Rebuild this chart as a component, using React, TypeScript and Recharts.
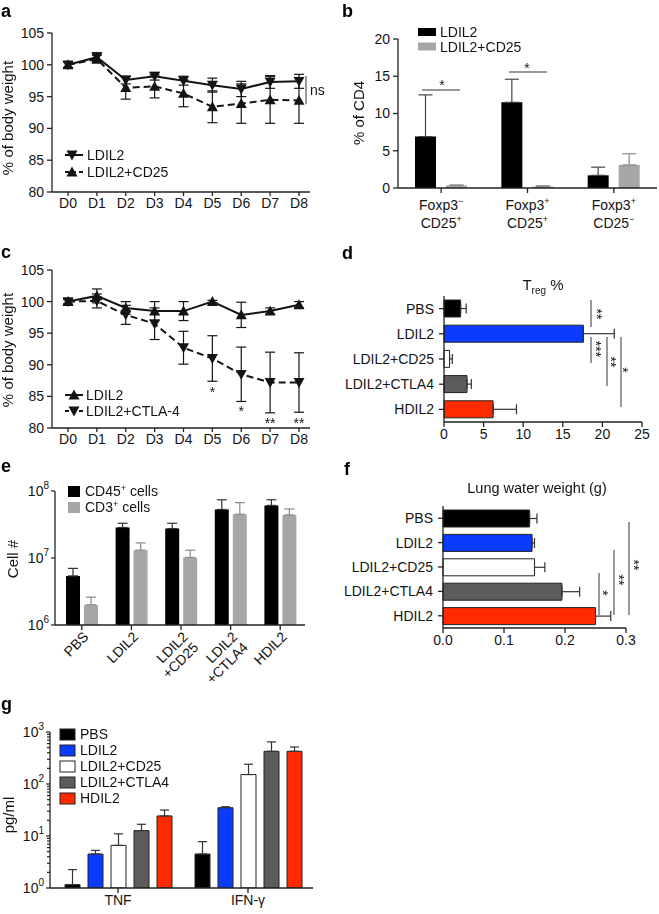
import React from "react";
import { LineChart, Line, BarChart, Bar, XAxis, YAxis, ErrorBar, Cell } from "recharts";

const FONT = "'Liberation Sans', Arial, Helvetica, sans-serif";
const INK = "#141414";
const AXIS = { stroke: "#222", strokeWidth: 1.3 };
const TICK = { fontSize: 14, fill: INK };

// a: body weight, LDIL2 vs LDIL2+CD25
const days = ["D0", "D1", "D2", "D3", "D4", "D5", "D6", "D7", "D8"];
const aLdil2 = [100, 101.2, 97.6, 98.2, 97.5, 96.8, 96.2, 97.3, 97.4];
const aLdil2Err = [0.5, 0.7, 0.6, 0.6, 0.7, 1.1, 1.2, 1.0, 1.1];
const aCd25 = [100, 100.9, 96.4, 96.6, 95.5, 93.4, 93.9, 94.5, 94.4];
const aCd25Err = [0.4, 0.6, 1.8, 1.8, 2.1, 2.5, 3.1, 3.7, 3.6];

// b: % of CD4
const bCategories = ["Foxp3⁻/CD25⁺", "Foxp3⁺/CD25⁺", "Foxp3⁺/CD25⁻"];
const bLdil2 = [6.9, 11.5, 1.7];
const bLdil2Err = [5.6, 3.1, 1.1];
const bCd25 = [0.35, 0.2, 3.1];
const bCd25Err = [0.05, 0.1, 1.5];

// c: body weight, LDIL2 vs LDIL2+CTLA-4
const cLdil2 = [100, 100.9, 99.0, 98.5, 98.5, 100, 97.9, 98.5, 99.5];
const cLdil2Err = [0.4, 1.1, 1.0, 1.5, 1.5, 0.2, 2.0, 0.5, 0.5];
const cCtla4 = [100, 100.1, 97.9, 96.5, 92.7, 91.0, 88.5, 87.2, 87.2];
const cCtla4Err = [0.4, 1.1, 1.5, 2.5, 2.6, 3.6, 4.3, 4.8, 4.7];

// shared treatment groups
const groups = ["PBS", "LDIL2", "LDIL2+CD25", "LDIL2+CTLA4", "HDIL2"];
const groupFill = ["#000000", "#0a3bff", "#ffffff", "#5c5c5c", "#ff2a00"];

// d: Treg %
const dTreg = [2.1, 17.6, 0.7, 2.9, 6.2];
const dTregErr = [0.7, 3.9, 0.35, 0.55, 2.95];

// e: cell counts (log)
const eCategories = ["PBS", "LDIL2", "LDIL2\n+CD25", "LDIL2\n+CTLA4", "HDIL2"];
const eCd45 = [5.4e6, 2.85e7, 2.75e7, 5.3e7, 6.1e7];
const eCd45Err = [1.6e6, 0.45e7, 0.55e7, 2.1e7, 1.3e7];
const eCd3 = [2.0e6, 1.31e7, 1.02e7, 4.5e7, 4.4e7];
const eCd3Err = [0.6e6, 0.37e7, 0.29e7, 2.2e7, 1.0e7];

// f: lung water weight
const fLung = [0.142, 0.146, 0.15, 0.195, 0.25];
const fLungErr = [0.012, 0.004, 0.017, 0.029, 0.025];

// g: cytokines (log)
const gCytokines = ["TNF", "IFN-γ"];
const gPbs = [1.16, 4.5];
const gPbsErr = [1.1, 3.3];
const gLdil2 = [4.5, 35];
const gLdil2Err = [0.8, 1.5];
const gCd25 = [6.6, 152];
const gCd25Err = [4.4, 88];
const gCtla4 = [12.7, 425];
const gCtla4Err = [4.1, 220];
const gHdil2 = [24.3, 425];
const gHdil2Err = [7.3, 90];
const gKeys = ["pbs", "ldil2", "cd25", "ctla4", "hdil2"];

const gTicks: number[] = [];
[1, 10, 100].forEach((d) => [1, 2, 3, 4, 5, 6, 7, 8, 9].forEach((m) => gTicks.push(d * m)));
gTicks.push(1000);

const aRows = days.map((day, i) => ({ day, solid: aLdil2[i], solidErr: aLdil2Err[i], dashed: aCd25[i], dashedErr: aCd25Err[i] }));
const cRows = days.map((day, i) => ({ day, solid: cLdil2[i], solidErr: cLdil2Err[i], dashed: cCtla4[i], dashedErr: cCtla4Err[i] }));
const bRows = bCategories.map((name, i) => ({ name, ldil2: bLdil2[i], ldil2Err: [0, bLdil2Err[i]], cd25: bCd25[i], cd25Err: [0, bCd25Err[i]] }));
const dRows = groups.map((name, i) => ({ name, v: dTreg[i], err: [0, dTregErr[i]] }));
const fRows = groups.map((name, i) => ({ name, v: fLung[i], err: [0, fLungErr[i]] }));
const eRows = eCategories.map((name, i) => ({ name, cd45: eCd45[i], cd45Err: [0, eCd45Err[i]], cd3: eCd3[i], cd3Err: [0, eCd3Err[i]] }));
const gSeries = [gPbs, gLdil2, gCd25, gCtla4, gHdil2];
const gErrs = [gPbsErr, gLdil2Err, gCd25Err, gCtla4Err, gHdil2Err];
const gRows = gCytokines.map((name, i) => {
  const row: any = { name };
  gKeys.forEach((k, j) => {
    row[k] = gSeries[j][i];
    row[k + "Err"] = [0, gErrs[j][i]];
  });
  return row;
});

const SUP: Record<string, string> = { "⁺": "+", "⁻": "−" };

function triPath(cx: number, cy: number, up: boolean, s = 5.5) {
  return up
    ? `M${cx},${cy - s} L${cx + s},${cy + s * 0.8} L${cx - s},${cy + s * 0.8} Z`
    : `M${cx},${cy + s} L${cx + s},${cy - s * 0.8} L${cx - s},${cy - s * 0.8} Z`;
}

function Marker({ cx, cy, up }: any) {
  if (cx == null || cy == null) return null;
  return <path d={triPath(cx, cy, up)} fill={INK} stroke="none" />;
}

function LogTick(props: any) {
  const { x, y, payload, minorLen = 3, majorLen = 4 } = props;
  const lg = Math.log10(payload.value);
  const exp = Math.round(lg);
  const major = Math.abs(lg - exp) < 1e-6;
  return (
    <g>
      <line x1={x - (major ? majorLen : minorLen)} x2={x} y1={y} y2={y} stroke="#222" strokeWidth={1.2} />
      {major && (
        <text x={x - 6} y={y + 5} textAnchor="end" fontSize={14} fill={INK}>
          10
          <tspan dy={-7} fontSize={10}>{exp}</tspan>
        </text>
      )}
    </g>
  );
}

function SupTick(props: any) {
  const { x, y, payload } = props;
  const lines = String(payload.value).split("/");
  return (
    <g transform={`translate(${x},${y})`}>
      {lines.map((l, i) => {
        const last = l.slice(-1);
        const sup = SUP[last];
        return (
          <text key={i} x={0} y={15 + i * 18} textAnchor="middle" fontSize={14} fill={INK}>
            {sup ? l.slice(0, -1) : l}
            {sup && <tspan dy={-6} fontSize={9}>{sup}</tspan>}
          </text>
        );
      })}
    </g>
  );
}

function RotTick(props: any) {
  const { x, y, payload } = props;
  const lines = String(payload.value).split("\n");
  return (
    <g transform={`translate(${x + 2},${y}) rotate(-45)`}>
      {lines.map((l, i) => (
        <text key={i} x={0} y={8 + i * 15} textAnchor="end" fontSize={14} fill={INK}>
          {l}
        </text>
      ))}
    </g>
  );
}

function WeightChart({ rows, solidUp, height, top }: any) {
  return (
    <LineChart width={330} height={height} data={rows} margin={{ top, right: 20, left: 0, bottom: 0 }}>
      <XAxis dataKey="day" height={28} padding={{ left: 16, right: 11 }} interval={0} tick={TICK} tickSize={4} axisLine={AXIS} tickLine={AXIS} />
      <YAxis width={52} domain={[80, 105]} ticks={[80, 85, 90, 95, 100, 105]} tick={TICK} tickSize={5} tickMargin={3} axisLine={AXIS} tickLine={AXIS} />
      <Line
        dataKey="dashed"
        stroke={INK}
        strokeWidth={2}
        strokeDasharray="7 4"
        dot={(p: any) => <Marker key={`d${p.index}`} cx={p.cx} cy={p.cy} up={!solidUp} />}
        isAnimationActive={false}
      >
        <ErrorBar dataKey="dashedErr" width={5} stroke={INK} strokeWidth={1.2} direction="y" />
      </Line>
      <Line
        dataKey="solid"
        stroke={INK}
        strokeWidth={2}
        dot={(p: any) => <Marker key={`s${p.index}`} cx={p.cx} cy={p.cy} up={solidUp} />}
        isAnimationActive={false}
      >
        <ErrorBar dataKey="solidErr" width={5} stroke={INK} strokeWidth={1.2} direction="y" />
      </Line>
    </LineChart>
  );
}

function HBarChart({ rows, domain, ticks, top, height, yWidth, right, xHeight, fmt, cap }: any) {
  return (
    <BarChart width={329} height={height} data={rows} layout="vertical" margin={{ top, right, left: 0, bottom: 0 }}>
      <XAxis type="number" domain={domain} ticks={ticks} height={xHeight} tick={TICK} tickSize={5} axisLine={AXIS} tickLine={AXIS} tickFormatter={fmt} />
      <YAxis type="category" dataKey="name" width={yWidth} interval={0} tick={TICK} tickSize={5} tickMargin={5} axisLine={AXIS} tickLine={AXIS} />
      <Bar dataKey="v" barSize={17} stroke="#222" strokeWidth={1} isAnimationActive={false}>
        {rows.map((r: any, i: number) => (
          <Cell key={r.name} fill={groupFill[i]} />
        ))}
        <ErrorBar dataKey="err" direction="x" width={cap} stroke="#333" strokeWidth={1.2} />
      </Bar>
    </BarChart>
  );
}

function Overlay() {
  const letters: [string, number, number][] = [
    ["a", 1, 16.5], ["b", 342, 16.5], ["c", 1, 258], ["d", 342, 259], ["e", 1, 472], ["f", 344, 475], ["g", 1, 710],
  ];
  const dayX = (i: number) => 68 + i * 28.875;
  // stars read top-to-bottom beside a bracket line
  const stack = (cx: number, cy: number, s: string, key: string) => (
    <text key={key} transform={`translate(${cx - 8},${cy}) rotate(90)`} textAnchor="middle" fontSize={14} fill={INK}>
      {s}
    </text>
  );
  const vline = (x: number, y1: number, y2: number, key: string) => (
    <line key={key} x1={x} x2={x} y1={y1} y2={y2} stroke="#333" strokeWidth={1} />
  );
  return (
    <svg
      width={659}
      height={914}
      style={{ position: "absolute", left: 0, top: 0, pointerEvents: "none", willChange: "transform" }}
      fontFamily={FONT}
    >
      {letters.map(([t, x, y]) => (
        <text key={t} x={x} y={y} fontSize={18} fontWeight="bold" fill="#000">{t}</text>
      ))}

      {/* axis titles */}
      <text transform="translate(13,118) rotate(-90)" textAnchor="middle" fontSize={15} fill={INK}>% of body weight</text>
      <text transform="translate(13,350) rotate(-90)" textAnchor="middle" fontSize={15} fill={INK}>% of body weight</text>
      <text transform="translate(364,113) rotate(-90)" textAnchor="middle" fontSize={15} fill={INK}>% of CD4</text>
      <text transform="translate(18,559) rotate(-90)" textAnchor="middle" fontSize={15} fill={INK}>Cell #</text>
      <text transform="translate(14,815) rotate(-90)" textAnchor="middle" fontSize={15} fill={INK}>pg/ml</text>
      <text x={543} y={290} textAnchor="middle" fontSize={15} fill={INK}>
        T<tspan dy={4} fontSize={10}>reg</tspan><tspan dy={-4}> %</tspan>
      </text>
      <text x={537} y={493} textAnchor="middle" fontSize={14.5} fill={INK}>Lung water weight (g)</text>

      {/* legend a */}
      <line x1={65} x2={83} y1={155} y2={155} stroke={INK} strokeWidth={2} />
      <path d={triPath(72, 155, false)} fill={INK} />
      <text x={87} y={160} fontSize={14} fill={INK}>LDIL2</text>
      <line x1={65} x2={83} y1={172} y2={172} stroke={INK} strokeWidth={2} strokeDasharray="4 3" />
      <path d={triPath(72, 172, true)} fill={INK} />
      <text x={87} y={177} fontSize={14} fill={INK}>LDIL2+CD25</text>

      {/* legend c */}
      <line x1={65} x2={83} y1={395} y2={395} stroke={INK} strokeWidth={2} />
      <path d={triPath(74, 395, true)} fill={INK} />
      <text x={86} y={400} fontSize={14} fill={INK}>LDIL2</text>
      <line x1={65} x2={83} y1={411} y2={411} stroke={INK} strokeWidth={2} strokeDasharray="4 3" />
      <path d={triPath(74, 411, false)} fill={INK} />
      <text x={86} y={416} fontSize={14} fill={INK}>LDIL2+CTLA-4</text>

      {/* legend b */}
      <rect x={418} y={28} width={18} height={8} fill="#000" />
      <text x={440} y={37} fontSize={14} fill={INK}>LDIL2</text>
      <rect x={418} y={42.5} width={18} height={8} fill="#a6a6a6" />
      <text x={440} y={51.5} fontSize={14} fill={INK}>LDIL2+CD25</text>

      {/* legend e */}
      <rect x={68} y={486} width={12} height={11} fill="#000" />
      <text x={85} y={496} fontSize={14} fill={INK}>CD45<tspan dy={-5} fontSize={9}>+</tspan><tspan dy={5}> cells</tspan></text>
      <rect x={68} y={502} width={12} height={11} fill="#a6a6a6" />
      <text x={85} y={512} fontSize={14} fill={INK}>CD3<tspan dy={-5} fontSize={9}>+</tspan><tspan dy={5}> cells</tspan></text>

      {/* legend g */}
      {groups.map((g, i) => (
        <g key={g}>
          <rect x={60} y={729 + i * 16} width={15} height={11} fill={groupFill[i]} stroke="#222" strokeWidth={1} />
          <text x={80} y={739 + i * 16} fontSize={14} fill={INK}>{g}</text>
        </g>
      ))}

      {/* a: ns */}
      {vline(306, 76, 104, "ns")}
      <text x={310} y={95} fontSize={14} fill={INK}>ns</text>

      {/* b: significance */}
      <line x1={422} x2={460} y1={90} y2={90} stroke="#333" />
      <text x={442} y={90} textAnchor="middle" fontSize={14} fill={INK}>*</text>
      <line x1={509} x2={547} y1={72} y2={72} stroke="#333" />
      <text x={527} y={72.5} textAnchor="middle" fontSize={14} fill={INK}>*</text>

      {/* c: stars */}
      <text x={dayX(5)} y={397} textAnchor="middle" fontSize={14} fill={INK}>*</text>
      <text x={dayX(6)} y={416} textAnchor="middle" fontSize={14} fill={INK}>*</text>
      <text x={dayX(7)} y={428} textAnchor="middle" fontSize={14} fill={INK}>**</text>
      <text x={dayX(8)} y={428} textAnchor="middle" fontSize={14} fill={INK}>**</text>

      {/* d: significance */}
      {vline(591, 300, 327, "d1")}
      {vline(591, 337, 363, "d2")}
      {vline(607, 337, 386, "d3")}
      {vline(621, 337, 407, "d4")}
      {stack(600, 314, "**", "ds1")}
      {stack(599, 349, "***", "ds2")}
      {stack(614, 362, "**", "ds3")}
      {stack(626, 370, "*", "ds4")}

      {/* f: significance */}
      {vline(599, 573, 615, "f1")}
      {vline(614, 550, 615, "f2")}
      {vline(629, 522, 615, "f3")}
      {stack(606, 593, "*", "fs1")}
      {stack(622, 580, "**", "fs2")}
      {stack(637, 565, "**", "fs3")}
    </svg>
  );
}

export default function App() {
  return (
    <div style={{ position: "absolute", left: 0, top: 0, width: 659, height: 914, background: "#fff", fontFamily: FONT, color: INK }}>
      <div style={{ position: "absolute", left: 0, top: 0 }}>
        <WeightChart rows={aRows} solidUp={false} height={220} top={33} />
      </div>

      <div style={{ position: "absolute", left: 330, top: 0 }}>
        <BarChart width={329} height={240} data={bRows} margin={{ top: 39, right: 2, left: 0, bottom: 0 }} barSize={21} barGap={10}>
          <XAxis dataKey="name" height={52} interval={0} tick={<SupTick />} tickSize={5} axisLine={AXIS} tickLine={AXIS} />
          <YAxis width={68} domain={[0, 20]} ticks={[0, 5, 10, 15, 20]} tick={TICK} tickSize={5} tickMargin={3} axisLine={AXIS} tickLine={AXIS} />
          <Bar dataKey="ldil2" fill="#000" isAnimationActive={false}>
            <ErrorBar dataKey="ldil2Err" direction="y" width={7} stroke="#444" strokeWidth={1.2} />
          </Bar>
          <Bar dataKey="cd25" fill="#a6a6a6" isAnimationActive={false}>
            <ErrorBar dataKey="cd25Err" direction="y" width={7} stroke="#8a8a8a" strokeWidth={1.2} />
          </Bar>
        </BarChart>
      </div>

      <div style={{ position: "absolute", left: 0, top: 220 }}>
        <WeightChart rows={cRows} solidUp={true} height={236} top={50} />
      </div>

      <div style={{ position: "absolute", left: 330, top: 220 }}>
        <HBarChart rows={dRows} domain={[0, 25]} ticks={[0, 5, 10, 15, 20, 25]} top={76} height={230} yWidth={114} right={17} xHeight={28} cap={5} />
      </div>

      <div style={{ position: "absolute", left: 0, top: 440 }}>
        <BarChart width={330} height={260} data={eRows} margin={{ top: 51, right: 25, left: 0, bottom: 0 }} barSize={14} barGap={4}>
          <XAxis dataKey="name" height={75} interval={0} padding={{ left: 2, right: 0 }} tick={<RotTick />} tickSize={5} axisLine={AXIS} tickLine={AXIS} />
          <YAxis width={55} scale="log" type="number" domain={[1e6, 1e8]} ticks={[1e6, 1e7, 1e8]} interval={0} tick={<LogTick />} tickSize={0} tickMargin={0} tickLine={false} axisLine={AXIS} allowDataOverflow />
          <Bar dataKey="cd45" fill="#000" isAnimationActive={false}>
            <ErrorBar dataKey="cd45Err" direction="y" width={5} stroke="#333" strokeWidth={1.2} />
          </Bar>
          <Bar dataKey="cd3" fill="#a6a6a6" isAnimationActive={false}>
            <ErrorBar dataKey="cd3Err" direction="y" width={5} stroke="#8a8a8a" strokeWidth={1.2} />
          </Bar>
        </BarChart>
      </div>

      <div style={{ position: "absolute", left: 330, top: 440 }}>
        <HBarChart rows={fRows} domain={[0, 0.3]} ticks={[0, 0.1, 0.2, 0.3]} top={66} height={230} yWidth={113} right={33} xHeight={42} cap={5} fmt={(v: number) => v.toFixed(1)} />
      </div>

      <div style={{ position: "absolute", left: 0, top: 660 }}>
        <BarChart width={330} height={254} data={gRows} margin={{ top: 72, right: 17, left: 0, bottom: 0 }} barSize={15} barGap={8}>
          <XAxis dataKey="name" height={26} interval={0} padding={{ left: 3, right: 0 }} tick={TICK} tickSize={5} axisLine={AXIS} tickLine={AXIS} />
          <YAxis width={50} scale="log" type="number" domain={[1, 1000]} ticks={gTicks} interval={0} tick={<LogTick />} tickSize={0} tickMargin={0} tickLine={false} axisLine={AXIS} allowDataOverflow />
          {gKeys.map((k, j) => (
            <Bar key={k} dataKey={k} fill={groupFill[j]} stroke="#222" strokeWidth={1} isAnimationActive={false}>
              <ErrorBar dataKey={k + "Err"} direction="y" width={4.5} stroke="#333" strokeWidth={1.2} />
            </Bar>
          ))}
        </BarChart>
      </div>

      <Overlay />
    </div>
  );
}
